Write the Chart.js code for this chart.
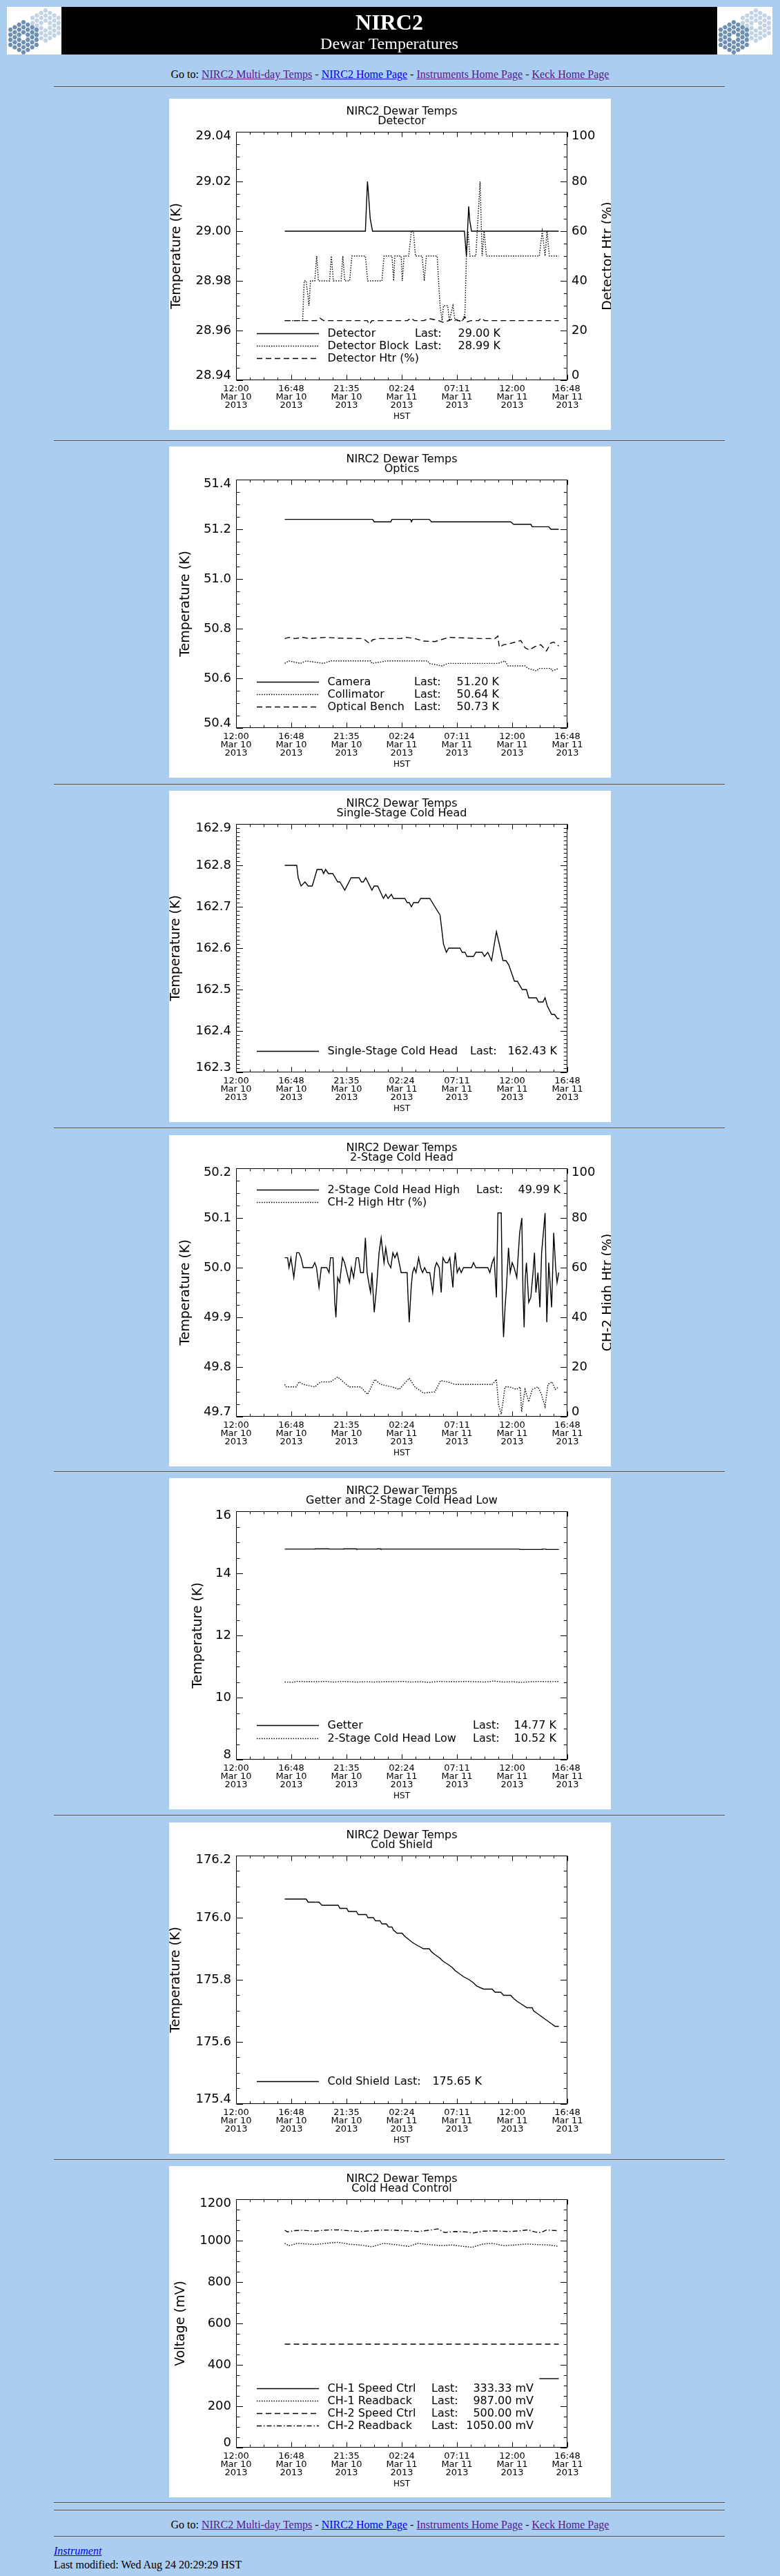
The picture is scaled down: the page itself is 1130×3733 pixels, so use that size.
<!DOCTYPE html>
<html>
<head>
<meta charset="utf-8">
<title>NIRC2 Dewar Temperatures</title>
<script src="https://cdn.jsdelivr.net/npm/chart.js"></script>
<style>
body { margin: 0; width: 1130px; height: 3733px; position: relative; overflow: hidden;
       background: #abcdf0; font-family: "Liberation Serif", "Times New Roman", serif; font-size: 16px; color: #000; }
.abs { position: absolute; }
a { color: #551a8b; }
a.fresh { color: #0000ee; }
.logo { top: 10px; width: 80px; height: 69px; }
#banner { left: 89px; top: 10px; width: 950px; height: 69px; background: #000; color: #fff; text-align: center; }
#banner .t1 { position: absolute; left: 0; width: 100%; top: 4px; font-size: 32px; line-height: 36px; font-weight: bold; }
#banner .t2 { position: absolute; left: 0; width: 100%; top: 39px; font-size: 24px; line-height: 28px; }
.goto { left: 0; width: 1130px; text-align: center; line-height: 20px; }
.rule { left: 78px; width: 972px; height: 0; border-top: 1px solid #4e4e4e; border-bottom: 1px solid #d6d6d6; }
.panel { left: 245px; width: 640px; height: 480px; background: #fff; }
.foot { left: 78px; line-height: 20px; }
</style>
</head>
<body>
<canvas id="logoL" class="abs logo" width="80" height="69" style="left:10px"></canvas>
<div id="banner" class="abs"><div class="t1">NIRC2</div><div class="t2">Dewar Temperatures</div></div>
<canvas id="logoR" class="abs logo" width="80" height="69" style="left:1039px"></canvas>

<div class="abs goto" style="top:98px">Go to: <a href="#">NIRC2 Multi-day Temps</a> - <a class="fresh" href="#">NIRC2 Home Page</a> - <a href="#">Instruments Home Page</a> - <a href="#">Keck Home Page</a></div>
<div class="abs rule" style="top:125px"></div>

<canvas id="c1" class="abs panel" width="640" height="480" style="top:143px"></canvas>
<div class="abs rule" style="top:638px"></div>
<canvas id="c2" class="abs panel" width="640" height="480" style="top:647px"></canvas>
<div class="abs rule" style="top:1136px"></div>
<canvas id="c3" class="abs panel" width="640" height="480" style="top:1146px"></canvas>
<div class="abs rule" style="top:1634px"></div>
<canvas id="c4" class="abs panel" width="640" height="480" style="top:1645px"></canvas>
<div class="abs rule" style="top:2132px"></div>
<canvas id="c5" class="abs panel" width="640" height="480" style="top:2142px"></canvas>
<div class="abs rule" style="top:2630px"></div>
<canvas id="c6" class="abs panel" width="640" height="480" style="top:2641px"></canvas>
<div class="abs rule" style="top:3129px"></div>
<canvas id="c7" class="abs panel" width="640" height="480" style="top:3139px"></canvas>
<div class="abs rule" style="top:3626px"></div>
<div class="abs rule" style="top:3637px"></div>

<div class="abs goto" style="top:3649px">Go to: <a href="#">NIRC2 Multi-day Temps</a> - <a class="fresh" href="#">NIRC2 Home Page</a> - <a href="#">Instruments Home Page</a> - <a href="#">Keck Home Page</a></div>
<div class="abs rule" style="top:3675px"></div>
<div class="abs foot" style="top:3687px"><a class="fresh" href="#"><i>Instrument</i></a></div>
<div class="abs foot" style="top:3707px">Last modified: Wed Aug 24 20:29:29 HST</div>

<script>
// hours after 12:00 HST, Mar 10 2013
const xTickHours = [0, 4.8, 9.6, 14.4, 19.2, 24, 28.8];
const xTickLabels = [
    ['12:00', 'Mar 10', '2013'], ['16:48', 'Mar 10', '2013'], ['21:35', 'Mar 10', '2013'],
    ['02:24', 'Mar 11', '2013'], ['07:11', 'Mar 11', '2013'], ['12:00', 'Mar 11', '2013'],
    ['16:48', 'Mar 11', '2013']
];

// Detector
const detHours = [4.23, 11.24, 11.42, 11.51, 11.66, 11.86, 19.85, 20.02, 20.22, 20.32, 20.47, 28.05];
const detK = [29.000, 29.000, 29.020, 29.015, 29.005, 29.000, 29.000, 28.990, 29.010, 29.004, 29.000, 29.000];
const blockHours = [4.23, 5.79, 5.92, 6.09, 6.34, 6.47, 6.84, 7.01, 7.16, 8.13, 8.28, 8.46, 9.13, 9.28, 9.45, 9.87,
    10.07, 11.24, 11.44, 12.68, 12.86, 13.55, 13.70, 13.80, 14.35, 14.45, 14.60, 15.00, 15.24, 15.42, 15.59, 16.17,
    16.36, 16.54, 17.48, 17.73, 17.91, 18.03, 18.40, 18.53, 18.85, 19.03, 19.72, 19.90, 20.02, 20.17, 20.32, 20.84,
    21.21, 21.39, 21.56, 21.76, 26.36, 26.61, 26.86, 27.03, 27.23, 28.05];
const blockK = [28.964, 28.964, 28.98, 28.98, 28.97, 28.98, 28.98, 28.99, 28.98, 28.98, 28.99, 28.98, 28.98, 28.99, 28.98, 28.98,
    28.99, 28.99, 28.98, 28.98, 28.99, 28.99, 28.98, 28.99, 28.99, 28.98, 28.99, 28.99, 29.00, 29.00, 28.99, 28.99,
    28.98, 28.99, 28.99, 28.97, 28.964, 28.97, 28.97, 28.964, 28.97, 28.964, 28.964, 28.967, 28.99, 29.00, 28.99, 28.99,
    29.02, 28.99, 29.00, 28.99, 28.99, 29.00, 28.99, 29.00, 28.99, 28.99];
const htrHours = [4.23, 7.0, 7.3, 7.6, 11.4, 11.6, 11.8, 14.9, 15.2, 15.5, 16.3, 16.8, 17.6, 18.0, 18.5, 18.9, 19.6,
    19.9, 20.1, 20.4, 21.1, 21.3, 21.6, 28.05];
const htrPct = [24, 24, 25, 24, 24, 22.5, 24, 24, 25, 24, 24, 24.8, 24, 23.3, 24, 24.8, 23.5, 25.5, 23.5, 24, 24, 25, 24, 24];

// Optics
const camHours = [4.23, 11.86, 12.01, 13.45, 13.55, 15.17, 15.24, 15.34, 16.79, 16.99, 23.87, 24.12, 25.62, 25.74, 27.18, 27.36, 28.05];
const camK = [51.24, 51.24, 51.23, 51.23, 51.24, 51.24, 51.23, 51.24, 51.24, 51.23, 51.23, 51.22, 51.22, 51.21, 51.21, 51.20, 51.20];
const colHours = [4.23, 4.60, 5.60, 6.09, 7.59, 8.21, 11.69, 11.81, 13.06, 16.66, 16.79, 17.91, 18.40, 22.76, 23.38, 23.63,
    25.12, 25.37, 26.11, 26.36, 27.36, 27.48, 28.05];
const colK = [50.66, 50.67, 50.66, 50.67, 50.66, 50.67, 50.67, 50.66, 50.67, 50.67, 50.66, 50.65, 50.66, 50.66, 50.67, 50.65,
    50.65, 50.64, 50.63, 50.64, 50.64, 50.63, 50.64];
const benchHours = [4.23, 4.60, 5.10, 5.84, 6.34, 7.83, 8.83, 11.07, 11.61, 11.86, 12.31, 14.30, 14.80, 15.54, 16.29, 17.28,
    18.15, 18.53, 21.26, 22.51, 22.76, 22.88, 23.25, 23.63, 24.75, 25.12, 25.49, 25.99, 26.49, 26.98, 27.36, 27.61, 28.05];
const benchK = [50.76, 50.765, 50.76, 50.765, 50.76, 50.765, 50.762, 50.76, 50.74, 50.755, 50.76, 50.76, 50.765, 50.76, 50.75, 50.748,
    50.76, 50.765, 50.76, 50.76, 50.77, 50.725, 50.735, 50.738, 50.752, 50.723, 50.714, 50.728, 50.735, 50.71, 50.742, 50.746, 50.73];

// Single-stage cold head
const sshHours = [4.23, 5.27, 5.40, 5.65, 5.99, 6.27, 6.62, 7.04, 7.46, 7.61, 7.78, 8.03, 8.41, 8.83, 9.03, 9.45, 10.00,
    10.69, 10.89, 11.07, 11.27, 11.81, 12.01, 12.31, 12.81, 13.01, 13.21, 13.50, 13.68, 14.67, 14.87, 15.05, 15.24, 15.44,
    15.84, 16.04, 16.84, 17.28, 17.73, 18.03, 18.28, 18.48, 19.47, 19.65, 19.90, 20.07, 20.64, 20.84, 21.39, 21.59, 21.88,
    22.21, 22.63, 22.88, 23.20, 23.45, 23.70, 24.20, 24.45, 24.87, 25.24, 25.44, 26.11, 26.29, 26.68, 26.86, 27.06, 27.43,
    27.68, 27.93, 28.10];
const sshK = [162.80, 162.80, 162.77, 162.75, 162.76, 162.75, 162.75, 162.79, 162.79, 162.78, 162.79, 162.78, 162.78, 162.76, 162.76, 162.74, 162.77,
    162.77, 162.76, 162.76, 162.77, 162.74, 162.75, 162.75, 162.72, 162.73, 162.72, 162.73, 162.72, 162.72, 162.71, 162.71, 162.70, 162.71,
    162.71, 162.72, 162.72, 162.70, 162.68, 162.61, 162.59, 162.60, 162.60, 162.59, 162.59, 162.58, 162.58, 162.59, 162.59, 162.58, 162.59,
    162.57, 162.64, 162.61, 162.57, 162.57, 162.56, 162.52, 162.52, 162.50, 162.50, 162.48, 162.48, 162.47, 162.47, 162.48, 162.46, 162.44,
    162.44, 162.43, 162.43];

// 2-stage cold head
const ch2Hours = [4.23, 4.48, 4.60, 4.77, 5.02, 5.27, 5.47, 5.65, 5.84, 6.64, 6.84, 6.99, 7.21, 7.41, 7.88, 8.08, 8.21, 8.43,
    8.58, 8.68, 8.83, 9.00, 9.25, 9.43, 9.85, 10.02, 10.22, 10.45, 10.64, 10.82, 11.07, 11.24, 11.39, 11.61, 11.69, 11.81,
    12.01, 12.21, 12.43, 12.61, 12.86, 13.01, 13.21, 13.45, 13.63, 13.80, 14.00, 14.35, 14.87, 14.95, 15.05, 15.22, 15.34,
    15.49, 15.64, 15.87, 16.04, 16.21, 16.39, 16.59, 16.84, 17.09, 17.28, 17.43, 17.66, 17.83, 17.98, 18.20, 18.40, 18.58,
    18.85, 18.93, 19.05, 19.22, 19.40, 19.57, 19.77, 20.47, 20.64, 20.84, 21.88, 22.06, 22.26, 22.43, 22.63, 22.76, 23.05,
    23.15, 23.25, 23.38, 23.50, 23.68, 23.83, 24.00, 24.17, 24.40, 24.65, 24.84, 24.94, 25.04, 25.14, 25.24, 25.44, 25.62,
    25.81, 25.94, 26.06, 26.24, 26.41, 26.56, 26.86, 27.01, 27.18, 27.43, 27.61, 27.78, 27.90, 28.05];
const ch2K = [50.02, 50.02, 50.00, 50.02, 49.98, 50.03, 50.03, 50.02, 50.00, 50.00, 50.01, 50.00, 49.96, 50.00, 50.00, 49.99, 50.02, 50.02,
    49.93, 49.90, 49.98, 49.97, 50.02, 50.01, 49.97, 50.00, 49.98, 50.02, 50.02, 49.99, 49.99, 50.06, 49.99, 49.96, 49.95, 49.99,
    49.91, 49.96, 50.03, 50.06, 50.01, 50.04, 50.01, 50.00, 50.03, 50.02, 50.03, 49.99, 49.99, 49.94, 49.89, 49.96, 49.99,
    50.00, 49.99, 50.02, 50.00, 49.99, 50.00, 49.99, 49.99, 49.95, 50.00, 50.01, 50.00, 49.95, 50.02, 50.01, 50.01, 50.02,
    49.96, 50.00, 50.03, 49.99, 50.00, 49.99, 50.00, 50.00, 50.01, 50.00, 50.00, 49.99, 50.01, 50.02, 49.94, 50.11, 50.11,
    49.93, 49.86, 49.92, 49.96, 50.04, 49.99, 50.01, 50.00, 49.98, 50.07, 50.10, 49.95, 49.88, 49.98, 50.01, 49.93, 49.94,
    49.99, 50.03, 49.95, 49.99, 49.92, 50.03, 50.11, 49.89, 50.01, 49.92, 50.07, 50.00, 49.97, 49.99];
const ch2HtrHours = [4.23, 4.35, 5.22, 5.47, 5.84, 6.84, 7.34, 8.21, 8.83, 9.33, 9.82, 10.82, 11.44, 12.06, 12.56, 13.55,
    14.18, 15.05, 15.54, 16.29, 17.28, 17.78, 18.40, 19.03, 20.27, 22.26, 22.63, 22.81, 23.05, 23.38, 23.75, 24.37, 24.70,
    24.82, 25.12, 25.44, 25.74, 26.24, 26.54, 26.86, 27.11, 27.48, 27.73, 28.05];
const ch2HtrPct = [13, 12, 12, 14, 13, 12, 14, 14, 16, 14, 12, 12, 9, 15, 13, 12,
    11, 15.5, 12, 9.5, 10, 14.5, 14, 13, 13, 13, 15, 5, 1, 12, 12, 11, 12,
    2, 11, 6, 11, 12, 9, 4, 13, 14, 11, 12];

// Getter and 2-stage cold head low
const getHours = [4.23, 6.84, 6.86, 8.08, 8.10, 9.33, 9.35, 10.45, 10.47, 12.26, 12.28, 12.56, 12.58, 24.63, 24.67, 26.61, 26.63, 26.93, 26.95, 28.05];
const getK = [14.78, 14.78, 14.79, 14.79, 14.78, 14.78, 14.79, 14.79, 14.78, 14.78, 14.79, 14.79, 14.78, 14.78, 14.77, 14.77, 14.78, 14.78, 14.77, 14.77];
const lowHours = [4.23, 5.0, 5.3, 6.1, 7.0, 7.8, 8.5, 9.3, 9.8, 10.5, 11.3, 12.0, 12.8, 13.6, 14.5, 15.2, 16.0, 16.8,
    17.6, 18.4, 19.2, 20.0, 20.8, 21.6, 22.4, 23.2, 24.0, 24.8, 25.6, 26.4, 27.2, 28.05];
const lowK = [10.50, 10.49, 10.52, 10.51, 10.51, 10.52, 10.50, 10.52, 10.51, 10.50, 10.51, 10.50, 10.51, 10.51, 10.52, 10.50, 10.51, 10.49,
    10.52, 10.51, 10.51, 10.52, 10.51, 10.50, 10.53, 10.50, 10.51, 10.49, 10.51, 10.52, 10.51, 10.52];

// Cold shield
const shieldHours = [4.23, 6.09, 6.27, 7.21, 7.46, 8.88, 9.03, 9.62, 9.77, 10.45, 10.62, 11.32, 11.46, 11.94, 12.11, 12.51,
    12.68, 13.06, 13.26, 13.55, 13.68, 14.00, 14.42, 14.67, 15.00, 15.34, 15.79, 16.29, 16.79, 16.99, 17.33, 17.71, 17.98,
    18.40, 18.78, 19.03, 19.40, 19.77, 20.27, 20.64, 20.90, 21.51, 22.26, 22.51, 23.01, 23.25, 23.87, 24.12, 24.45, 24.87,
    25.29, 25.74, 25.86, 26.24, 26.61, 26.98, 27.36, 27.73, 28.05];
const shieldK = [176.06, 176.06, 176.05, 176.05, 176.04, 176.04, 176.03, 176.03, 176.02, 176.02, 176.01, 176.01, 176.00, 176.00, 175.99, 175.99,
    175.98, 175.98, 175.97, 175.97, 175.96, 175.95, 175.95, 175.94, 175.93, 175.92, 175.91, 175.90, 175.90, 175.89, 175.88, 175.87, 175.86,
    175.85, 175.84, 175.83, 175.82, 175.81, 175.80, 175.79, 175.78, 175.77, 175.77, 175.76, 175.76, 175.75, 175.75, 175.74, 175.73, 175.72,
    175.71, 175.71, 175.70, 175.69, 175.68, 175.67, 175.66, 175.65, 175.65];

// Cold head control
const sp1Hours = [26.36, 28.05];
const sp1mV = [333.33, 333.33];
const rb1Hours = [4.23, 4.60, 5.35, 6.84, 7.83, 8.83, 9.82, 10.82, 11.81, 12.81, 13.80, 15.05, 15.79, 16.79, 17.78, 18.78,
    19.77, 20.52, 21.51, 22.26, 23.25, 24.25, 25.24, 26.24, 27.23, 28.05];
const rb1mV = [987, 976, 987, 981, 987, 992, 983, 979, 970, 987, 981, 972, 987, 981, 976, 979,
    972, 968, 984, 987, 976, 979, 984, 981, 979, 972];
const sp2Hours = [4.23, 28.05];
const sp2mV = [500, 500];
const rb2Hours = [4.23, 4.48, 4.97, 5.84, 6.84, 7.83, 8.83, 9.82, 10.82, 11.81, 12.81, 13.80, 14.80, 15.79, 16.79, 17.53,
    18.15, 19.03, 20.02, 20.64, 21.51, 22.51, 23.75, 24.75, 25.37, 25.99, 26.49, 26.98, 28.05];
const rb2mV = [1050, 1042, 1048, 1050, 1046, 1051, 1052, 1048, 1044, 1048, 1051, 1050, 1048, 1044, 1050, 1057,
    1039, 1044, 1042, 1037, 1046, 1047, 1044, 1048, 1052, 1042, 1039, 1051, 1048];

const FONT = '"DejaVu Sans", sans-serif';
const W = 'normal';
const SOLID = [], DOT = [1.5, 2], DASH = [8, 5], DASHDOT = [7, 3, 1.5, 3];

Chart.defaults.font.family = FONT;
Chart.defaults.font.weight = W;
Chart.defaults.color = '#000';

const pts = (t, v) => t.map((h, i) => ({ x: h, y: v[i] }));

// IDL-style frame: inward ticks on all four sides, labels, titles and legend
const idlAxes = {
    id: 'idlAxes',
    afterDatasetsDraw(chart, args, o) {
        const { ctx, chartArea: a, scales } = chart;
        const L = Math.round(a.left) + 0.5, R = Math.round(a.right) - 0.5;
        const T = Math.round(a.top) + 0.5, B = Math.round(a.bottom) - 0.5;
        ctx.save();
        ctx.strokeStyle = '#000';
        ctx.lineWidth = 1;
        ctx.setLineDash([]);
        ctx.beginPath();
        ctx.rect(L, T, R - L, B - T);
        const xs = scales.x, xm = 4.8 / 4;
        const nx = Math.round((xs.max - xs.min) / xm);
        for (let i = 0; i <= nx; i++) {
            const px = Math.round(xs.getPixelForValue(xs.min + i * xm)) + 0.5;
            const len = i % 4 ? 3.6 : 7.2;
            ctx.moveTo(px, B); ctx.lineTo(px, B - len);
            ctx.moveTo(px, T); ctx.lineTo(px, T + len);
        }
        const sideTicks = (sc, ax, x0, dir) => {
            const m = ax.step / ax.minor;
            const n = Math.round((sc.max - sc.min) / m);
            for (let i = 0; i <= n; i++) {
                const py = Math.round(sc.getPixelForValue(sc.min + i * m)) + 0.5;
                const len = i % ax.minor ? 4.8 : 9.6;
                ctx.moveTo(x0, py); ctx.lineTo(x0 + dir * len, py);
            }
        };
        sideTicks(scales.y, o.left, L, 1);
        if (scales.y2) sideTicks(scales.y2, o.right, R, -1);
        else sideTicks(scales.y, o.left, R, -1);
        ctx.stroke();

        ctx.fillStyle = '#000';
        ctx.textBaseline = 'middle';
        ctx.font = W + ' 18px ' + FONT;
        const sideLabels = (sc, ax, x, align) => {
            ctx.textAlign = align;
            const n = Math.round((sc.max - sc.min) / ax.step);
            for (let k = 0; k <= n; k++) {
                const v = sc.min + k * ax.step;
                let py = sc.getPixelForValue(v);
                if (k === 0) py -= 6.5;
                else if (k === n) py += 6.5;
                ctx.fillText(v.toFixed(ax.dec), x, py);
            }
        };
        sideLabels(scales.y, o.left, a.left - 7, 'right');
        if (scales.y2) sideLabels(scales.y2, o.right, a.right + 6, 'left');

        const vTitle = (text, x) => {
            ctx.save();
            ctx.translate(x, (a.top + a.bottom) / 2);
            ctx.rotate(-Math.PI / 2);
            ctx.textAlign = 'center';
            ctx.font = W + ' 19px ' + FONT;
            ctx.fillText(text, 0, 0);
            ctx.restore();
        };
        vTitle(o.left.title, o.left.titleX);
        if (o.right) vTitle(o.right.title, 636);

        const lg = o.legend;
        ctx.font = W + ' 16px ' + FONT;
        lg.rows.forEach((row, i) => {
            const y = Math.round(lg.y0 + i * lg.dy) + 0.5;
            ctx.setLineDash(row[0]);
            ctx.lineWidth = 1.4;
            ctx.beginPath(); ctx.moveTo(127, y); ctx.lineTo(217, y); ctx.stroke();
            ctx.setLineDash([]);
            ctx.textAlign = 'left';
            ctx.fillText(row[1], 229.5, y);
            if (row[2]) {
                ctx.fillText('Last:', lg.lastX, y);
                ctx.textAlign = 'right';
                ctx.fillText(row[2], lg.valEnd, y);
            }
        });
        ctx.restore();
    }
};

function dewarChart(id, c) {
    const scales = {
        x: {
            type: 'linear', min: 0, max: 28.8,
            grid: { display: false, drawTicks: false }, border: { display: false },
            afterBuildTicks: s => { s.ticks = xTickHours.map(v => ({ value: v })); },
            ticks: { autoSkip: false, maxRotation: 0, padding: 7, font: { size: 13, lineHeight: '12px' },
                     callback: (v, i) => xTickLabels[i] },
            title: { display: true, text: 'HST', font: { size: 12, lineHeight: '14px' }, padding: { top: 0, bottom: 12 } },
            afterFit: s => { s.height = 72; }
        },
        y: {
            min: c.left.min, max: c.left.max,
            grid: { display: false, drawTicks: false }, border: { display: false },
            ticks: { display: false },
            afterFit: s => { s.width = 97; }
        }
    };
    if (c.right) {
        scales.y2 = {
            position: 'right', min: c.right.min, max: c.right.max,
            grid: { display: false, drawTicks: false }, border: { display: false },
            ticks: { display: false },
            afterFit: s => { s.width = 63; }
        };
    }
    return new Chart(document.getElementById(id), {
        type: 'line',
        data: {
            datasets: c.series.map(s => ({
                data: pts(s.t, s.v),
                yAxisID: s.axis || 'y',
                borderColor: '#000',
                borderWidth: 1.4,
                borderDash: s.dash,
                pointRadius: 0,
                tension: 0,
                fill: false
            }))
        },
        options: {
            responsive: false,
            animation: false,
            devicePixelRatio: 1,
            layout: { padding: { right: c.right ? 0 : 63 } },
            plugins: {
                legend: { display: false },
                tooltip: { enabled: false },
                title: {
                    display: true, fullSize: false,
                    text: ['NIRC2 Dewar Temps', c.sub],
                    font: { size: 16, weight: W, lineHeight: '14px' },
                    padding: { top: 12, bottom: 8 }
                },
                idlAxes: { left: c.left, right: c.right, legend: c.legend }
            },
            scales: scales
        },
        plugins: [idlAxes]
    });
}

dewarChart('c1', {
    sub: 'Detector',
    left: { min: 28.94, max: 29.04, step: 0.02, minor: 4, dec: 2, title: 'Temperature (K)', titleX: 11 },
    right: { min: 0, max: 100, step: 20, minor: 4, dec: 0, title: 'Detector Htr (%)' },
    series: [
        { t: detHours, v: detK, dash: SOLID },
        { t: blockHours, v: blockK, dash: DOT },
        { t: htrHours, v: htrPct, dash: DASH, axis: 'y2' }
    ],
    legend: { y0: 340, dy: 18, lastX: 356, valEnd: 480, rows: [
        [SOLID, 'Detector', '29.00 K'], [DOT, 'Detector Block', '28.99 K'], [DASH, 'Detector Htr (%)', null]] }
});

dewarChart('c2', {
    sub: 'Optics',
    left: { min: 50.4, max: 51.4, step: 0.2, minor: 4, dec: 1, title: 'Temperature (K)', titleX: 24 },
    series: [
        { t: camHours, v: camK, dash: SOLID },
        { t: colHours, v: colK, dash: DOT },
        { t: benchHours, v: benchK, dash: DASH }
    ],
    legend: { y0: 341, dy: 18, lastX: 355, valEnd: 478, rows: [
        [SOLID, 'Camera', '51.20 K'], [DOT, 'Collimator', '50.64 K'], [DASH, 'Optical Bench', '50.73 K']] }
});

dewarChart('c3', {
    sub: 'Single-Stage Cold Head',
    left: { min: 162.3, max: 162.9, step: 0.1, minor: 10, dec: 1, title: 'Temperature (K)', titleX: 10 },
    series: [{ t: sshHours, v: sshK, dash: SOLID }],
    legend: { y0: 377, dy: 18, lastX: 436, valEnd: 562, rows: [[SOLID, 'Single-Stage Cold Head', '162.43 K']] }
});

dewarChart('c4', {
    sub: '2-Stage Cold Head',
    left: { min: 49.7, max: 50.2, step: 0.1, minor: 4, dec: 1, title: 'Temperature (K)', titleX: 24 },
    right: { min: 0, max: 100, step: 20, minor: 4, dec: 0, title: 'CH-2 High Htr (%)' },
    series: [
        { t: ch2Hours, v: ch2K, dash: SOLID },
        { t: ch2HtrHours, v: ch2HtrPct, dash: DOT, axis: 'y2' }
    ],
    legend: { y0: 79, dy: 18, lastX: 445, valEnd: 567, rows: [
        [SOLID, '2-Stage Cold Head High', '49.99 K'], [DOT, 'CH-2 High Htr (%)', null]] }
});

dewarChart('c5', {
    sub: 'Getter and 2-Stage Cold Head Low',
    left: { min: 8, max: 16, step: 2, minor: 4, dec: 0, title: 'Temperature (K)', titleX: 42 },
    series: [
        { t: getHours, v: getK, dash: SOLID },
        { t: lowHours, v: lowK, dash: DOT }
    ],
    legend: { y0: 358, dy: 18.5, lastX: 440, valEnd: 561, rows: [
        [SOLID, 'Getter', '14.77 K'], [DOT, '2-Stage Cold Head Low', '10.52 K']] }
});

dewarChart('c6', {
    sub: 'Cold Shield',
    left: { min: 175.4, max: 176.2, step: 0.2, minor: 4, dec: 1, title: 'Temperature (K)', titleX: 10 },
    series: [{ t: shieldHours, v: shieldK, dash: SOLID }],
    legend: { y0: 375, dy: 18, lastX: 326, valEnd: 453, rows: [[SOLID, 'Cold Shield', '175.65 K']] }
});

dewarChart('c7', {
    sub: 'Cold Head Control',
    left: { min: 0, max: 1200, step: 200, minor: 4, dec: 0, title: 'Voltage (mV)', titleX: 17 },
    series: [
        { t: sp1Hours, v: sp1mV, dash: SOLID },
        { t: rb1Hours, v: rb1mV, dash: DOT },
        { t: sp2Hours, v: sp2mV, dash: DASH },
        { t: rb2Hours, v: rb2mV, dash: DASHDOT }
    ],
    legend: { y0: 322, dy: 17.9, lastX: 380, valEnd: 528, rows: [
        [SOLID, 'CH-1 Speed Ctrl', '333.33 mV'], [DOT, 'CH-1 Readback', '987.00 mV'],
        [DASH, 'CH-2 Speed Ctrl', '500.00 mV'], [DASHDOT, 'CH-2 Readback', '1050.00 mV']] }
});

// header logos: two hexagonal segmented mirrors
function drawLogo(cv) {
    const g = cv.getContext('2d');
    g.fillStyle = '#fff';
    g.fillRect(0, 0, cv.width, cv.height);
    const r = 4.2;
    const mirror = (cx, cy, col) => {
        g.fillStyle = col;
        for (let q = -3; q <= 3; q++) {
            for (let s = -3; s <= 3; s++) {
                if (Math.abs(q + s) > 3 || (q === 0 && s === 0)) continue;
                const x = cx + 1.5 * r * q, y = cy + Math.sqrt(3) * r * (s + q / 2);
                g.beginPath();
                for (let k = 0; k < 6; k++) {
                    const an = Math.PI / 3 * k;
                    g.lineTo(x + (r - 0.7) * Math.cos(an), y + (r - 0.7) * Math.sin(an));
                }
                g.fill();
            }
        }
    };
    mirror(56, 27, '#c4d3e3');
    mirror(24, 44, '#6f8fb2');
}
drawLogo(document.getElementById('logoL'));
drawLogo(document.getElementById('logoR'));
</script>
</body>
</html>
